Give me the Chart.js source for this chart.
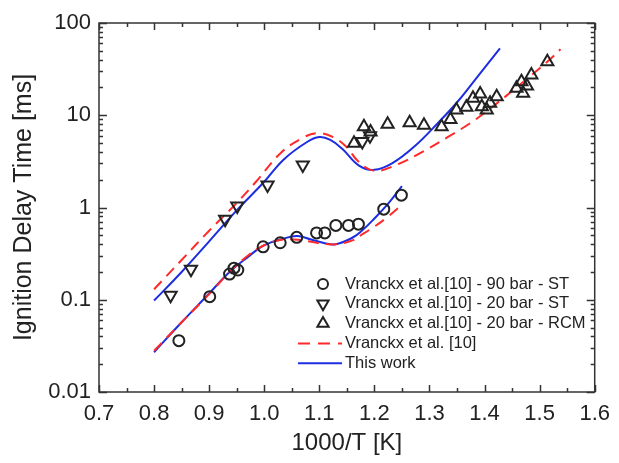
<!DOCTYPE html>
<html lang="en">
<head>
<meta charset="UTF-8">
<title>Ignition Delay Time</title>
<script src="https://cdn.jsdelivr.net/npm/chart.js"></script>
<style>
  html, body { margin: 0; padding: 0; background: #fff; }
  .wrap { width: 619px; height: 463px; position: relative; }
</style>
</head>
<body>
<div class="wrap"><canvas id="chart"></canvas></div>
<script>
// axis ticks
const xTicks = [0.7, 0.8, 0.9, 1.0, 1.1, 1.2, 1.3, 1.4, 1.5, 1.6];
const yTicks = [0.01, 0.1, 1, 10, 100];
const yTickLabels = ['0.01', '0.1', '1', '10', '100'];

// Vranckx et al. [10] - 90 bar - ST (circles)
const st90X = [0.845, 0.901, 0.937, 0.945, 0.952, 0.998, 1.029, 1.059, 1.095, 1.110, 1.130, 1.153, 1.171, 1.217, 1.249];
const st90Y = [0.036, 0.108, 0.19, 0.22, 0.21, 0.375, 0.415, 0.475, 0.53, 0.53, 0.64, 0.64, 0.66, 0.96, 1.36];

// Vranckx et al. [10] - 20 bar - ST (down triangles)
const st20X = [0.830, 0.867, 0.929, 0.951, 1.006, 1.070, 1.178, 1.192];
const st20Y = [0.112, 0.214, 0.744, 1.04, 1.75, 2.89, 5.2, 6.0];

// Vranckx et al. [10] - 20 bar - RCM (up triangles)
const rcmX = [1.163, 1.181, 1.193, 1.224, 1.264, 1.290, 1.322, 1.338, 1.349, 1.367, 1.379, 1.392, 1.395, 1.404, 1.41, 1.422, 1.458, 1.467, 1.470, 1.477, 1.485, 1.514];
const rcmY = [4.97, 7.5, 6.6, 8.0, 8.3, 7.8, 7.5, 9.0, 11.4, 12.2, 15.3, 17.0, 12.4, 11.4, 13.5, 15.9, 19.6, 23.1, 17.3, 20.7, 27.3, 38.1];

// Vranckx et al. [10] model (red dashed), 20 bar and 90 bar branches
const refHiX = [0.8, 0.85, 0.9, 0.95, 0.985, 1.03, 1.07, 1.097, 1.125, 1.15, 1.17, 1.2, 1.243, 1.29, 1.333, 1.374, 1.41, 1.458, 1.514, 1.538];
const refHiY = [0.13, 0.27, 0.56, 1.12, 1.9, 3.9, 5.7, 6.4, 5.8, 4.5, 3.2, 2.5, 2.95, 4.1, 5.8, 8.2, 11.8, 20, 38, 52];
const refLoX = [0.8, 0.85, 0.9, 0.937, 0.97, 1.0, 1.035, 1.07, 1.1, 1.13, 1.16, 1.18, 1.2, 1.225, 1.252];
const refLoY = [0.028, 0.057, 0.115, 0.2, 0.3, 0.39, 0.45, 0.44, 0.41, 0.40, 0.44, 0.52, 0.62, 0.8, 1.1];

// This work (blue solid), 20 bar and 90 bar branches
const workHiX = [0.8, 0.85, 0.9, 0.95, 1.0, 1.035, 1.077, 1.1, 1.12, 1.142, 1.172, 1.2, 1.232, 1.273, 1.315, 1.351, 1.392, 1.428];
const workHiY = [0.098, 0.2, 0.43, 0.93, 1.9, 3.3, 5.1, 5.8, 5.4, 4.3, 2.85, 2.56, 3.0, 4.6, 8.2, 14.0, 28.5, 53];
const workLoX = [0.8, 0.85, 0.9, 0.937, 0.97, 1.0, 1.035, 1.06, 1.085, 1.11, 1.13, 1.16, 1.18, 1.2, 1.225, 1.25];
const workLoY = [0.027, 0.057, 0.117, 0.2, 0.29, 0.39, 0.46, 0.49, 0.45, 0.41, 0.40, 0.47, 0.58, 0.76, 1.1, 1.7];

const RED = '#ff2b2b';
const BLUE = '#1c2ee0';
const INK = '#222';
const FONT = "'Liberation Sans', Arial, sans-serif";

const pts = (xs, ys) => xs.map((x, i) => ({ x: x, y: ys[i] }));

function markerSet(label, xs, ys, style, rot, r) {
  return {
    label, data: pts(xs, ys), showLine: false,
    pointStyle: style, pointRotation: rot, pointRadius: r,
    pointBorderColor: INK, pointBackgroundColor: 'rgba(0,0,0,0)', pointBorderWidth: 2
  };
}
function lineSet(label, xs, ys, color, dash) {
  return {
    label, data: pts(xs, ys), showLine: true, pointRadius: 0,
    borderColor: color, borderWidth: 2, borderDash: dash,
    tension: 0.4, fill: false
  };
}

// frame + inside ticks on all four sides
const frameTicks = {
  id: 'frameTicks',
  afterDatasetsDraw(chart) {
    const { ctx, chartArea: a, scales: { x, y } } = chart;
    ctx.save();
    ctx.strokeStyle = '#333';
    ctx.lineWidth = 1.5;
    ctx.strokeRect(a.left, a.top, a.right - a.left, a.bottom - a.top);
    ctx.beginPath();
    xTicks.forEach((v, i) => {
      const px = Math.round(x.getPixelForValue(v)) + 0.5;
      ctx.moveTo(px, a.bottom); ctx.lineTo(px, a.bottom - 7);
      ctx.moveTo(px, a.top); ctx.lineTo(px, a.top + 7);
      if (i < xTicks.length - 1) {
        const pm = Math.round(x.getPixelForValue((v + xTicks[i + 1]) / 2)) + 0.5;
        ctx.moveTo(pm, a.bottom); ctx.lineTo(pm, a.bottom - 4);
        ctx.moveTo(pm, a.top); ctx.lineTo(pm, a.top + 4);
      }
    });
    yTicks.forEach((v, i) => {
      const py = Math.round(y.getPixelForValue(v)) + 0.5;
      ctx.moveTo(a.left, py); ctx.lineTo(a.left + 8, py);
      ctx.moveTo(a.right, py); ctx.lineTo(a.right - 8, py);
      if (i < yTicks.length - 1) {
        for (let m = 2; m < 10; m++) {
          const pm = Math.round(y.getPixelForValue(v * m)) + 0.5;
          ctx.moveTo(a.left, pm); ctx.lineTo(a.left + 4, pm);
          ctx.moveTo(a.right, pm); ctx.lineTo(a.right - 4, pm);
        }
      }
    });
    ctx.stroke();
    ctx.restore();
  }
};

// legend inside the plot, lower right
const legendRows = [
  { text: 'Vranckx et al.[10] - 90 bar - ST', marker: 'circle', rot: 0, r: 5 },
  { text: 'Vranckx et al.[10] - 20 bar - ST', marker: 'triangle', rot: 180, r: 6.5 },
  { text: 'Vranckx et al.[10] - 20 bar - RCM', marker: 'triangle', rot: 0, r: 6.5 },
  { text: 'Vranckx et al. [10]', line: RED, dash: [12, 8] },
  { text: 'This work', line: BLUE, dash: [] }
];
const insideLegend = {
  id: 'insideLegend',
  afterDraw(chart) {
    const ctx = chart.ctx;
    ctx.save();
    ctx.font = '16.5px ' + FONT;
    ctx.textBaseline = 'middle';
    legendRows.forEach((row, i) => {
      const yy = 284 + i * 19.8;
      if (row.marker) {
        ctx.fillStyle = 'rgba(0,0,0,0)';
        ctx.strokeStyle = INK;
        ctx.lineWidth = 2;
        Chart.helpers.drawPoint(ctx, {
          pointStyle: row.marker, rotation: row.rot, radius: row.r, borderWidth: 2
        }, 323, yy);
      } else {
        ctx.beginPath();
        ctx.strokeStyle = row.line;
        ctx.lineWidth = 2;
        ctx.setLineDash(row.dash);
        ctx.moveTo(298, yy); ctx.lineTo(342, yy);
        ctx.stroke();
        ctx.setLineDash([]);
      }
      ctx.fillStyle = INK;
      ctx.fillText(row.text, 345, yy);
    });
    ctx.restore();
  }
};

new Chart(document.getElementById('chart'), {
  type: 'scatter',
  data: {
    datasets: [
      markerSet('Vranckx et al.[10] - 90 bar - ST', st90X, st90Y, 'circle', 0, 5.5),
      markerSet('Vranckx et al.[10] - 20 bar - ST', st20X, st20Y, 'triangle', 180, 7),
      markerSet('Vranckx et al.[10] - 20 bar - RCM', rcmX, rcmY, 'triangle', 0, 7),
      lineSet('Vranckx et al. [10]', refHiX, refHiY, RED, [11, 7]),
      lineSet('Vranckx et al. [10] (90 bar)', refLoX, refLoY, RED, [11, 7]),
      lineSet('This work', workHiX, workHiY, BLUE, []),
      lineSet('This work (90 bar)', workLoX, workLoY, BLUE, [])
    ]
  },
  options: {
    responsive: true,
    maintainAspectRatio: false,
    animation: false,
    layout: { padding: { top: 23, right: 16, left: 0, bottom: 0 } },
    plugins: { legend: { display: false }, tooltip: { enabled: false } },
    scales: {
      x: {
        type: 'linear', min: 0.7, max: 1.6,
        afterBuildTicks: s => { s.ticks = xTicks.map(v => ({ value: v })); },
        afterFit: s => { s.height = 71; },
        grid: { display: false, drawTicks: false },
        border: { display: false },
        ticks: {
          autoSkip: false, maxRotation: 0, padding: 9, color: INK,
          font: { family: FONT, size: 22 },
          callback: v => v.toFixed(1)
        },
        title: {
          display: true, text: '1000/T [K]', color: INK,
          font: { family: FONT, size: 24 }, padding: { top: 0, bottom: 5 }
        }
      },
      y: {
        type: 'logarithmic', min: 0.01, max: 100,
        afterBuildTicks: s => { s.ticks = yTicks.map(v => ({ value: v })); },
        afterFit: s => { s.width = 99; },
        grid: { display: false, drawTicks: false },
        border: { display: false },
        ticks: {
          padding: 8, color: INK,
          font: { family: FONT, size: 22 },
          callback: (v, i) => yTickLabels[i]
        },
        title: {
          display: true, text: 'Ignition Delay Time [ms]', color: INK,
          font: { family: FONT, size: 25 }, padding: { top: 9, bottom: 0 }
        }
      }
    }
  },
  plugins: [frameTicks, insideLegend]
});
</script>
</body>
</html>
